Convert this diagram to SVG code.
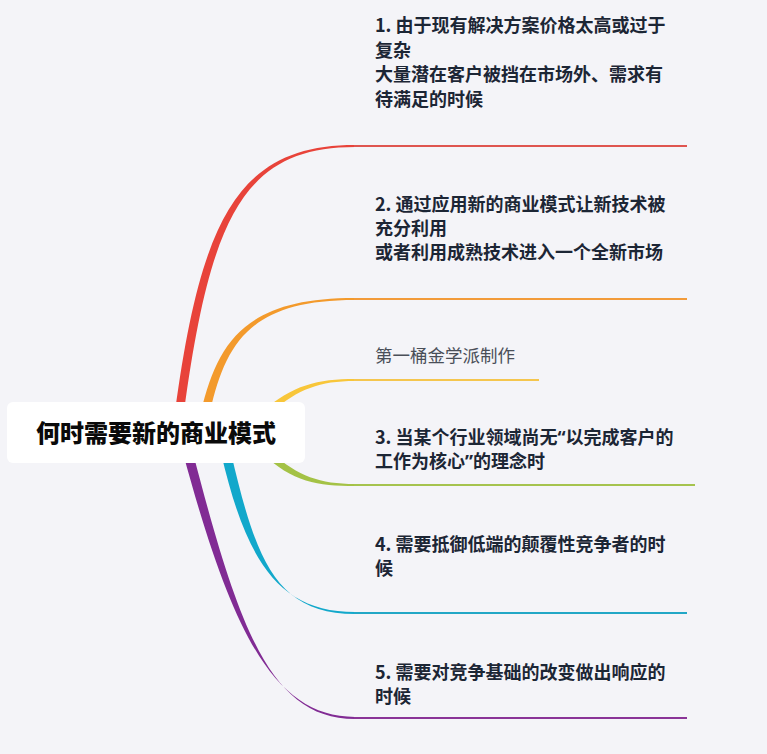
<svg xmlns="http://www.w3.org/2000/svg" width="767" height="754" viewBox="0 0 767 754">
<style>
.bg{fill:#f4f4f8}
.item{font-family:"Noto Sans CJK SC","Noto Sans",sans-serif;font-size:18px;font-weight:700;fill:#1c2635}
.q{font-family:"Noto Sans","Liberation Sans",sans-serif}
.note{font-family:"Noto Sans CJK SC","Noto Sans",sans-serif;font-size:17.5px;font-weight:400;fill:#4a4f58}
.root{font-family:"Noto Sans CJK SC","Noto Sans",sans-serif;font-size:24px;font-weight:900;fill:#0a0a0a}
.ul{fill:none;stroke-width:2.2;stroke-linecap:butt}
</style>
<rect class="bg" x="0" y="0" width="767" height="754"/>
<g id="connectors">
  <path d="M175,412 C201,219 238,145 355,145 L355,147 C242,147 210,221 184,412 Z" fill="#e8433a"/>
  <line class="ul" x1="354" y1="146" x2="687" y2="146" stroke="#df5550"/>
  <path d="M201,412 C218,339 248,298 355,298 L355,300 C252,300 226,341 210,412 Z" fill="#f39a2c"/>
  <line class="ul" x1="354" y1="299" x2="687" y2="299" stroke="#f29b3a"/>
  <path d="M262,412 C292,385 318,379 355,379 L355,381 C320,381 298,389 272,412 Z" fill="#f8c63a"/>
  <line class="ul" x1="354" y1="380" x2="539" y2="380" stroke="#f5c64e"/>
  <path d="M272,453 C298,476 320,484 355,484 L355,486 C318,486 292,482 262,453 Z" fill="#a4c246"/>
  <line class="ul" x1="354" y1="485" x2="695" y2="485" stroke="#a5c34e"/>
  <path d="M221,453 C246,560 278,612 355,612 L355,614 C276,614 256,560 231,453 Z" fill="#12a8cb"/>
  <line class="ul" x1="354" y1="613" x2="687" y2="613" stroke="#22a7c6"/>
  <path d="M183,453 C231,630 273,717 355,717 L355,719 C271,719 239,630 193,453 Z" fill="#812b94"/>
  <line class="ul" x1="354" y1="718" x2="687" y2="718" stroke="#8a3497"/>
</g>
<g id="root">
  <rect x="7" y="402" width="298" height="61" rx="6" ry="6" fill="#ffffff"/>
  <text class="root" x="36" y="442">何时需要新的商业模式</text>
</g>
<g id="node1">
  <text class="item" x="375" y="32">1. 由于现有解决方案价格太高或过于</text>
  <text class="item" x="375" y="56.5">复杂</text>
  <text class="item" x="375" y="81">大量潜在客户被挡在市场外、需求有</text>
  <text class="item" x="375" y="105.5">待满足的时候</text>
</g>
<g id="node2">
  <text class="item" x="375" y="211">2. 通过应用新的商业模式让新技术被</text>
  <text class="item" x="375" y="235">充分利用</text>
  <text class="item" x="375" y="259">或者利用成熟技术进入一个全新市场</text>
</g>
<g id="note">
  <text class="note" x="375" y="362">第一桶金学派制作</text>
</g>
<g id="node3">
  <text class="item" x="375" y="444">3. 当某个行业领域尚无<tspan class="q">“</tspan>以完成客户的</text>
  <text class="item" x="375" y="468">工作为核心<tspan class="q">”</tspan>的理念时</text>
</g>
<g id="node4">
  <text class="item" x="375" y="551">4. 需要抵御低端的颠覆性竞争者的时</text>
  <text class="item" x="375" y="575">候</text>
</g>
<g id="node5">
  <text class="item" x="375" y="679">5. 需要对竞争基础的改变做出响应的</text>
  <text class="item" x="375" y="703">时候</text>
</g>
</svg>
